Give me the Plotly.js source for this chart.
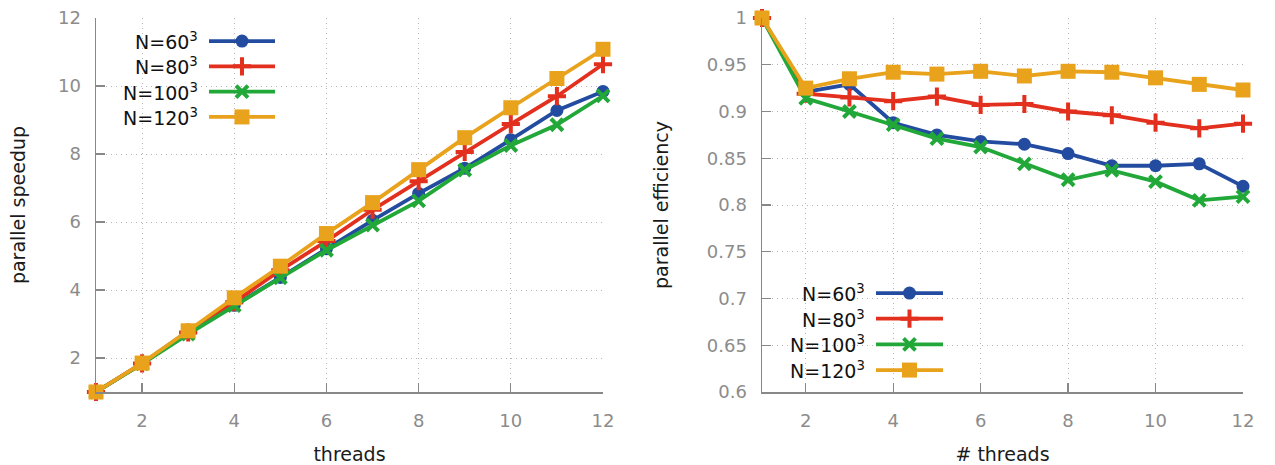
<!DOCTYPE html>
<html>
<head>
<meta charset="utf-8">
<script src="https://cdn.plot.ly/plotly-3.0.1.min.js"></script>
<style>html,body{margin:0;padding:0;background:#fff;}#chart{width:1275px;height:465px;}</style>
</head>
<body>
<div id="chart"></div>
<script>
// ---- data ----
const threads = [1,2,3,4,5,6,7,8,9,10,11,12];
const seriesNames = ["N=60<sup>3</sup>","N=80<sup>3</sup>","N=100<sup>3</sup>","N=120<sup>3</sup>"];
const speedup60  = [1, 1.84, 2.79, 3.55, 4.37, 5.21, 6.05, 6.84, 7.58, 8.42, 9.28, 9.84];
const speedup80  = [1, 1.84, 2.75, 3.64, 4.58, 5.44, 6.36, 7.20, 8.06, 8.88, 9.70, 10.64];
const speedup100 = [1, 1.83, 2.70, 3.54, 4.36, 5.17, 5.91, 6.62, 7.53, 8.25, 8.86, 9.71];
const speedup120 = [1, 1.85, 2.80, 3.77, 4.70, 5.66, 6.57, 7.54, 8.48, 9.36, 10.22, 11.08];
const eff60  = [1, 0.921, 0.929, 0.888, 0.875, 0.868, 0.865, 0.855, 0.842, 0.842, 0.844, 0.820];
const eff80  = [1, 0.919, 0.915, 0.911, 0.916, 0.907, 0.908, 0.900, 0.896, 0.888, 0.882, 0.887];
const eff100 = [1, 0.914, 0.900, 0.886, 0.871, 0.862, 0.844, 0.827, 0.837, 0.825, 0.805, 0.809];
const eff120 = [1, 0.925, 0.935, 0.942, 0.940, 0.943, 0.938, 0.943, 0.942, 0.936, 0.929, 0.923];
const xTicks = [2,4,6,8,10,12];
const yTicksLeft = [2,4,6,8,10,12];
const yTicksRight = [0.6,0.65,0.7,0.75,0.8,0.85,0.9,0.95,1];
const yTickTextRight = ["0.6","0.65","0.7","0.75","0.8","0.85","0.9","0.95","1"];

// ---- styles ----
const colors = ["#234ca0","#e3301e","#22a838","#e9a21b"];
const symbols = ["circle","cross-thin","x-thin","square"];
const msize = [13,13,12,15];
function marker(i){
  const thin = symbols[i].indexOf("thin")>=0;
  return {symbol:symbols[i], size:msize[i], color:colors[i], opacity:1,
          line:{color:colors[i], width: thin?4:0}};
}
const W=1275, H=465;
const px = v => v/W, py = v => (H-v)/H;
const FONT='DejaVu Sans, sans-serif';

const speeds=[speedup60,speedup80,speedup100,speedup120];
const effs=[eff60,eff80,eff100,eff120];
const traces=[];
for(let i=0;i<4;i++){
  traces.push({x:threads,y:speeds[i],xaxis:'x',yaxis:'y',mode:'lines+markers',opacity:1,
    line:{color:colors[i],width:3.8},marker:marker(i),cliponaxis:false,showlegend:false,hoverinfo:'skip'});
}
for(let i=0;i<4;i++){
  traces.push({x:threads,y:effs[i],xaxis:'x2',yaxis:'y2',mode:'lines+markers',opacity:1,
    line:{color:colors[i],width:3.8},marker:marker(i),cliponaxis:false,showlegend:false,hoverinfo:'skip'});
}
// legend samples (custom, gnuplot style: text left of sample)
const legendAxes=[['x3','y3'],['x4','y4']];
for(const [xa,ya] of legendAxes){
  for(let i=0;i<4;i++){
    traces.push({x:[0,0.5,1],y:[i,i,i],xaxis:xa,yaxis:ya,mode:'lines+markers',opacity:1,
      line:{color:colors[i],width:3.8},
      marker:Object.assign(marker(i),{size:[0,msize[i],0]}),
      cliponaxis:false,showlegend:false,hoverinfo:'skip'});
  }
}
const annotations=[];
const legTextX=[px(200),px(867)];
legendAxes.forEach(([xa,ya],k)=>{
  for(let i=0;i<4;i++){
    annotations.push({xref:'paper',yref:ya,x:legTextX[k],y:i,text:seriesNames[i],
      showarrow:false,xanchor:'right',yanchor:'middle',
      font:{family:FONT,size:19,color:'#111'}});
  }
});

const tickFont={family:FONT,size:18,color:'#8c8c8c'};
const titleFont={family:FONT,size:19,color:'#1a1a1a'};
const gridStyle={showgrid:true,gridcolor:'#b4b4b4',griddash:'1px,4px',gridwidth:1};
function xAxis(dom,title){
  return Object.assign({domain:dom,range:[1,12],tickvals:xTicks,ticks:'inside',ticklen:9,tickwidth:1.2,tickcolor:'#888',
    showline:true,linecolor:'#888',linewidth:1.5,
    zeroline:false,tickfont:tickFont,ticklabelstandoff:12,
    title:{text:title,font:titleFont,standoff:20}},gridStyle);
}
function yAxis(range,vals,text,anchor,title,standoff){
  const a=Object.assign({domain:[py(392),py(18)],range:range,tickvals:vals,ticks:'inside',ticklen:9,tickwidth:1.2,tickcolor:'#888',
    showline:true,linecolor:'#888',linewidth:1.5,zeroline:false,
    tickfont:tickFont,ticklabelstandoff:10,anchor:anchor,
    title:{text:title,font:titleFont,standoff:standoff}},gridStyle);
  if(text) a.ticktext=text;
  return a;
}
const layout={
  width:W,height:H,margin:{l:0,r:0,t:0,b:0},paper_bgcolor:'#fff',plot_bgcolor:'rgba(0,0,0,0)',
  showlegend:false,hovermode:false,
  xaxis:xAxis([px(96),px(603)],'threads'),
  xaxis2:Object.assign(xAxis([px(762),px(1243)],'# threads'),{anchor:'y2'}),
  yaxis:yAxis([1,12],yTicksLeft,null,'x','parallel speedup',27),
  yaxis2:yAxis([0.6,1],yTicksRight,yTickTextRight,'x2','parallel efficiency',33),
  xaxis3:{domain:[px(209),px(275)],range:[0,1],visible:false,anchor:'y3'},
  yaxis3:{domain:[py(129.6),py(28.4)],range:[3.5,-0.5],visible:false,anchor:'x3'},
  xaxis4:{domain:[px(876),px(943)],range:[0,1],visible:false,anchor:'y4'},
  yaxis4:{domain:[py(382.9),py(280.2)],range:[3.5,-0.5],visible:false,anchor:'x4'},
  annotations:annotations
};
Plotly.newPlot('chart',traces,layout,{displayModeBar:false,staticPlot:true});
</script>
</body>
</html>
